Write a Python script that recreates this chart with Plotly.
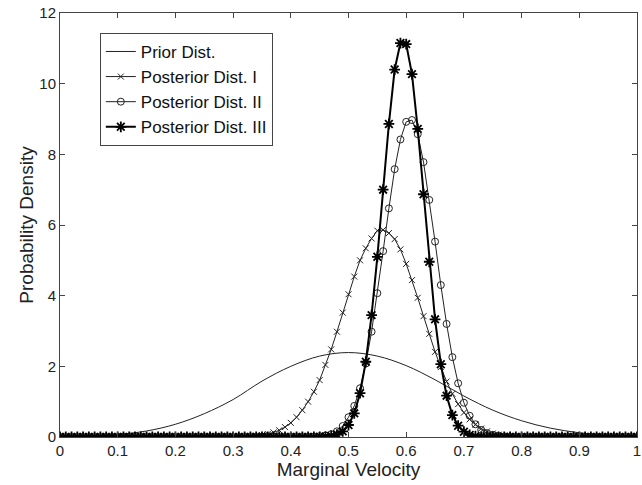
import plotly.graph_objects as go

# x grid for the posterior curves (marker every 0.01)
x_post = [i / 100 for i in range(101)]

# Prior (smooth line, sampled every 0.05)
x_prior = [0.0, 0.05, 0.10, 0.15, 0.20, 0.25, 0.30, 0.35, 0.40, 0.45, 0.50,
           0.55, 0.60, 0.65, 0.70, 0.75, 0.80, 0.85, 0.90, 0.95, 1.0]
y_prior = [0.0, 0.025, 0.07, 0.17, 0.36, 0.66, 1.06, 1.58, 2.0, 2.29, 2.39,
           2.29, 2.02, 1.62, 1.16, 0.76, 0.46, 0.25, 0.12, 0.04, 0.0]

post1 = [0.0] * 29 + [
    0.002, 0.004, 0.007, 0.012, 0.02, 0.035, 0.055, 0.085, 0.13, 0.19,
    0.28, 0.40, 0.56, 0.76, 1.00, 1.28, 1.61, 2.04, 2.48, 2.98,
    3.52, 4.04, 4.54, 5.00, 5.34, 5.62, 5.84, 5.86, 5.77, 5.60,
    5.31, 4.90, 4.44, 3.94, 3.42, 2.92, 2.41, 1.98, 1.57, 1.22,
    0.93, 0.69, 0.50, 0.35, 0.24, 0.16, 0.10, 0.065, 0.04, 0.024,
    0.014, 0.008, 0.004, 0.002] + [0.0] * 18

post2 = [0.0] * 43 + [
    0.004, 0.008, 0.02, 0.04, 0.08, 0.16, 0.31, 0.56, 0.88, 1.38,
    2.08, 2.98, 4.07, 5.26, 6.47, 7.58, 8.42, 8.92, 8.97, 8.57,
    7.78, 6.71, 5.53, 4.30, 3.20, 2.26, 1.52, 0.97, 0.60, 0.36,
    0.20, 0.11, 0.06, 0.03, 0.015, 0.007, 0.003] + [0.0] * 21

post3 = [0.0] * 45 + [
    0.005, 0.012, 0.03, 0.07, 0.16, 0.34, 0.67, 1.24, 2.13, 3.45,
    5.10, 7.00, 8.86, 10.40, 11.15, 11.12, 10.27, 8.72, 6.87, 4.96,
    3.33, 2.06, 1.17, 0.62, 0.32, 0.15, 0.06, 0.025, 0.01, 0.004] + [0.0] * 26

names = ["Prior Dist.", "Posterior Dist. I", "Posterior Dist. II", "Posterior Dist. III"]
x_ticks = [0, 0.1, 0.2, 0.3, 0.4, 0.5, 0.6, 0.7, 0.8, 0.9, 1]
y_ticks = [0, 2, 4, 6, 8, 10, 12]

fig = go.Figure()
fig.add_trace(go.Scatter(x=x_prior, y=y_prior, name=names[0], mode="lines",
                         line=dict(color="#222222", width=1, shape="spline")))
fig.add_trace(go.Scatter(x=x_post, y=post1, name=names[1], mode="lines+markers",
                         line=dict(color="#222222", width=1),
                         marker=dict(symbol="x-thin", size=6, color="#222222",
                                     line=dict(width=1, color="#222222"))))
fig.add_trace(go.Scatter(x=x_post, y=post2, name=names[2], mode="lines+markers",
                         line=dict(color="#222222", width=1),
                         marker=dict(symbol="circle-open", size=7, color="#222222",
                                     line=dict(width=1, color="#222222"))))
fig.add_trace(go.Scatter(x=x_post, y=post3, name=names[3], mode="lines+markers",
                         line=dict(color="#000000", width=2),
                         marker=dict(symbol="asterisk-open", size=9, color="#000000",
                                     line=dict(width=1.8, color="#000000"))))

axis_common = dict(showgrid=False, zeroline=False, showline=True, mirror="ticks",
                   linecolor="#444444", linewidth=1, ticks="inside", ticklen=5,
                   tickcolor="#444444", automargin=False, ticklabeloverflow="allow",
                   tickfont=dict(family="Liberation Sans, Arial", size=15, color="#222222"))

fig.update_layout(
    width=642, height=485,
    margin=dict(l=60, r=5, t=13, b=48),
    paper_bgcolor="white", plot_bgcolor="white",
    font=dict(family="Liberation Sans, Arial", color="#222222"),
    xaxis=dict(range=[0, 1], tickvals=x_ticks, ticktext=[str(v) for v in x_ticks],
               title=dict(text="Marginal Velocity", font=dict(size=19), standoff=0),
               **axis_common),
    yaxis=dict(range=[0, 12], tickvals=y_ticks,
               title=dict(text="Probability Density", font=dict(size=19), standoff=0),
               **axis_common),
    legend=dict(x=0.069, y=0.953, xanchor="left", yanchor="top",
                bgcolor="white", bordercolor="#444444", borderwidth=1,
                font=dict(size=17, color="#111111"), tracegroupgap=0,
                itemwidth=30),
    showlegend=True,
)

# remove the default 8px body margin so the 642x485 figure fills the window
fig.write_html("out.html", config={"displayModeBar": False},
               post_script="document.body.style.margin='0px';")
